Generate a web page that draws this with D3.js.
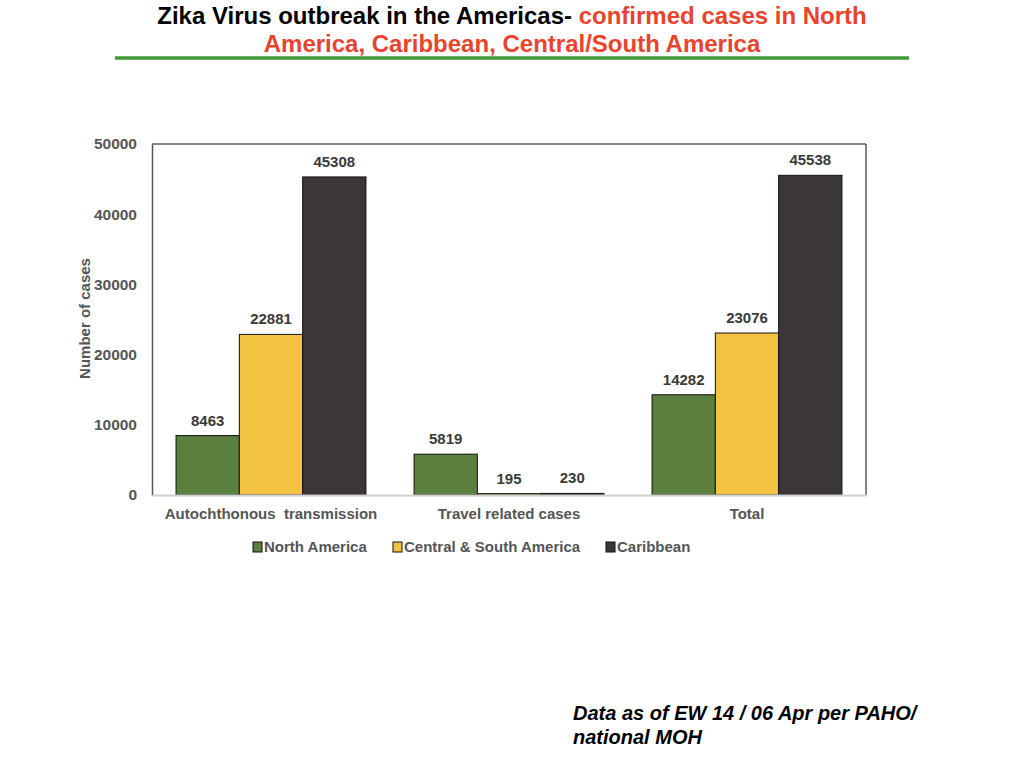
<!DOCTYPE html>
<html>
<head>
<meta charset="utf-8">
<script src="https://cdn.jsdelivr.net/npm/d3@7"></script>
<style>
  body { margin: 0; background: #fff; }
  svg { display: block; font-family: "Liberation Sans", Arial, sans-serif; }
</style>
</head>
<body>
<svg id="chart" width="1024" height="768"></svg>
<script>
// data
const categories = ["Autochthonous  transmission", "Travel related cases", "Total"];
const series = ["North America", "Central & South America", "Caribbean"];
const northAmerica = [8463, 5819, 14282];
const centralSouth = [22881, 195, 23076];
const caribbean = [45308, 230, 45538];
const yTicks = [0, 10000, 20000, 30000, 40000, 50000];

const colors = { "North America": "#5b7f3c", "Central & South America": "#f2c241", "Caribbean": "#3b3736" };
const values = [northAmerica, centralSouth, caribbean];

const rows = [];
categories.forEach((c, i) => {
  series.forEach((s, j) => rows.push({ cat: c, series: s, value: values[j][i] }));
});

const svg = d3.select("#chart");
const margin = { top: 144, right: 158, bottom: 273, left: 152 };
const W = 1024, H = 768;

// title
const title = svg.append("text").attr("text-anchor", "middle")
  .style("font-weight", "bold").style("font-size", "24px");
title.append("tspan").attr("x", 512).attr("y", 24)
  .text("Zika Virus outbreak in the Americas- ")
  .append("tspan").attr("fill", "#e8432e").text("confirmed cases in North");
title.append("tspan").attr("x", 512).attr("y", 52).attr("fill", "#e8432e")
  .text("America, Caribbean, Central/South America");

svg.append("line").attr("x1", 115).attr("x2", 909).attr("y1", 58).attr("y2", 58)
  .attr("stroke", "#3f9a36").attr("stroke-width", 3.5);

// scales
const x0 = d3.scaleBand().domain(categories).range([margin.left, W - margin.right]).padding(0);
const x1 = d3.scaleBand().domain(series).range([0, x0.bandwidth()]).paddingOuter(0.38).paddingInner(0);
const y = d3.scaleLinear().domain([0, 50000]).range([H - margin.bottom, margin.top]);

// frame
svg.append("line").attr("x1", margin.left).attr("x2", W - margin.right)
  .attr("y1", margin.top).attr("y2", margin.top).attr("stroke", "#111").attr("stroke-width", 1.2);
svg.append("line").attr("x1", W - margin.right).attr("x2", W - margin.right)
  .attr("y1", margin.top).attr("y2", y(0)).attr("stroke", "#333").attr("stroke-width", 1.2);

// y axis
const yAxis = svg.append("g").attr("transform", `translate(${margin.left},0)`)
  .call(d3.axisLeft(y).tickValues(yTicks).tickSize(0).tickPadding(15).tickFormat(d3.format("d")));
yAxis.select(".domain").attr("stroke", "#555").attr("stroke-width", 1.5);
yAxis.selectAll("text").style("font-size", "15.5px").style("font-weight", "bold").attr("fill", "#555");

svg.append("text")
  .attr("transform", `translate(90,${(margin.top + y(0)) / 2 - 1}) rotate(-90)`)
  .attr("text-anchor", "middle").style("font-size", "15px").style("font-weight", "bold")
  .attr("fill", "#555").text("Number of cases");

// bars
svg.append("g").selectAll("rect").data(rows).enter().append("rect")
  .attr("x", d => x0(d.cat) + x1(d.series))
  .attr("y", d => y(d.value))
  .attr("width", x1.bandwidth())
  .attr("height", d => y(0) - y(d.value))
  .attr("fill", d => colors[d.series])
  .attr("stroke", "#111").attr("stroke-width", 1);

// value labels
svg.append("g").selectAll("text").data(rows).enter().append("text")
  .attr("x", d => x0(d.cat) + x1(d.series) + x1.bandwidth() / 2)
  .attr("y", d => y(d.value) - 10)
  .attr("text-anchor", "middle").style("font-size", "15px").style("font-weight", "bold")
  .attr("fill", "#3a3a3a").text(d => d.value);

// x axis
const xAxis = svg.append("g").attr("transform", `translate(0,${y(0)})`)
  .call(d3.axisBottom(x0).tickSize(0).tickPadding(13));
xAxis.select(".domain").attr("stroke", "#d0d0d0").attr("stroke-width", 2);
xAxis.selectAll("text").style("font-size", "15px").style("font-weight", "bold").attr("fill", "#555")
  .style("white-space", "pre");

// legend
const legendItems = [
  { s: series[0], x: 253 },
  { s: series[1], x: 393 },
  { s: series[2], x: 606 }
];
const lg = svg.append("g").selectAll("g").data(legendItems).enter().append("g")
  .attr("transform", d => `translate(${d.x},547)`);
lg.append("rect").attr("x", 0).attr("y", -5).attr("width", 9).attr("height", 10)
  .attr("fill", d => colors[d.s]).attr("stroke", "#111").attr("stroke-width", 1);
lg.append("text").attr("x", 11).attr("y", 0).attr("dy", "0.35em")
  .style("font-size", "15px").style("font-weight", "bold").attr("fill", "#555").text(d => d.s);

// footnote
const note = svg.append("text").style("font-size", "20px").style("font-weight", "bold")
  .style("font-style", "italic").attr("fill", "#000");
note.append("tspan").attr("x", 573).attr("y", 720).text("Data as of EW 14 / 06 Apr per PAHO/");
note.append("tspan").attr("x", 573).attr("y", 744).text("national MOH");
</script>
</body>
</html>
